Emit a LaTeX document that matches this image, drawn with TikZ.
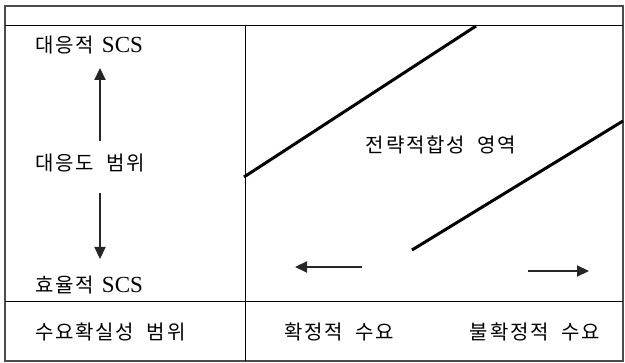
\documentclass[tikz,border=0pt]{standalone}
\usepackage{fontspec}
\setmainfont{Liberation Serif}
\newfontfamily\kr[LetterSpace=9,WordSpace=2]{Noto Sans CJK KR}
\usetikzlibrary{arrows.meta}
\begin{document}
\begin{tikzpicture}[x=1pt,y=-1pt,
  lbl/.style={anchor=west,inner sep=0pt,font=\fontsize{20}{24}\selectfont},
  clbl/.style={anchor=center,inner sep=0pt,font=\fontsize{20}{24}\selectfont},
  frame/.style={draw=black!70,line width=1.2pt},
  rule/.style={draw=black,line width=0.8pt},
  fit line/.style={draw=black,line width=3pt},
  arr/.style={draw=black!85,fill=black!85,line width=2.2pt,-{Triangle[length=12pt,width=11pt]}}]
\useasboundingbox (0,0) rectangle (625,363);
\draw[frame] (5,6) rectangle (623,361);
\draw[rule] (5,25) -- (623,25);
\draw[rule] (5,301) -- (623,301);
\draw[rule] (245,25) -- (245,361);
% texts
\node[lbl] (resp) at (35,45) {{\kr 대응적}\hspace{8pt}{\fontsize{23}{24}\selectfont SCS}};
\node[lbl] (range) at (35,163) {\kr 대응도 범위};
\node[lbl] (eff) at (35,285) {{\kr 효율적}\hspace{8pt}{\fontsize{23}{24}\selectfont SCS}};
\node[lbl] (dem) at (35,332) {\kr 수요확실성 범위};
\node[clbl] (cert) at (339,332) {\kr 확정적 수요};
\node[clbl] (unc) at (535,332) {\kr 불확정적 수요};
\node[clbl] (zone) at (441,145) {\kr 전략적합성 영역};
% vertical arrows
\coordinate (upS) at (100,141);
\coordinate (upE) at (100,68);
\coordinate (dnS) at (100,193);
\coordinate (dnE) at (100,259);
\draw[arr] (upS) -- (upE);
\draw[arr] (dnS) -- (dnE);
% horizontal arrows
\coordinate (lS) at (362,267);
\coordinate (lE) at (295,267);
\coordinate (rS) at (528,271);
\coordinate (rE) at (589,271);
\draw[arr] (lS) -- (lE);
\draw[arr] (rS) -- (rE);
% fit lines
\coordinate (a1) at (244,177);
\coordinate (a2) at (476,26);
\coordinate (b1) at (412,250);
\coordinate (b2) at (623,121);
\draw[fit line] (a1) -- (a2);
\draw[fit line] (b1) -- (b2);
\end{tikzpicture}
\end{document}
